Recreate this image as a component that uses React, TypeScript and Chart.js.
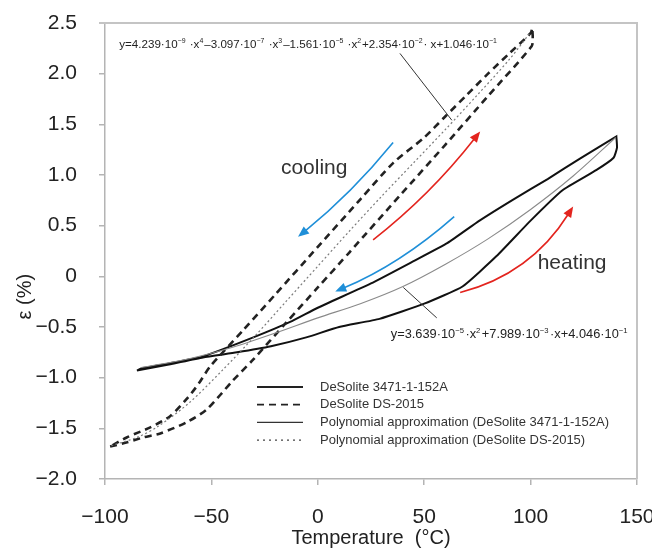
import React, { useEffect, useRef } from "react";
import { Chart, registerables } from "chart.js";
Chart.register(...registerables);

const FONT = "'Liberation Sans', Arial, 'Helvetica Neue', sans-serif";

const xTicks = [-100, -50, 0, 50, 100, 150];
const xTickLabels = ["\u2212100", "\u221250", "0", "50", "100", "150"];
const yTicks = [-2, -1.5, -1, -0.5, 0, 0.5, 1, 1.5, 2, 2.5];
const yTickLabels = ["\u22122.0", "\u22121.5", "\u22121.0", "\u22120.5", "0", "0.5", "1.0", "1.5", "2.0", "2.5"];

// DeSolite 3471-1-152A measured loop: heating branch then cooling branch
const s3471HeatT = [-85, -70, -54, -38, -22, -5, 10, 29, 50, 68, 84, 100, 115, 131, 139, 140.6, 140.3];
const s3471HeatE = [-0.93, -0.87, -0.8, -0.75, -0.69, -0.6, -0.5, -0.42, -0.27, -0.1, 0.2, 0.55, 0.85, 1.05, 1.17, 1.27, 1.38];
const s3471CoolT = [140.3, 123, 108, 92, 76, 61, 45, 25, 0, -13, -30, -54, -70, -83, -85];
const s3471CoolE = [1.38, 1.16, 0.96, 0.76, 0.55, 0.33, 0.15, -0.07, -0.31, -0.45, -0.6, -0.79, -0.86, -0.91, -0.93];

// DeSolite DS-2015 measured loop: heating branch then cooling branch
const sDSHeatT = [-97.6, -90, -82, -74, -61.6, -52, -40, -30.3, -15, 0, 15, 38.7, 60, 80, 100.5, 101, 100.8];
const sDSHeatE = [-1.68, -1.64, -1.59, -1.55, -1.44, -1.31, -1.03, -0.82, -0.46, -0.11, 0.24, 0.8, 1.3, 1.78, 2.27, 2.35, 2.45];
const sDSCoolT = [100.8, 100, 90, 80, 70, 60, 50, 35.5, 20, 0, -20, -35, -50.6, -56, -61.6, -69.4, -78.7, -89.8, -97.6];
const sDSCoolE = [2.45, 2.4, 2.2, 2.0, 1.79, 1.58, 1.37, 1.12, 0.76, 0.29, -0.18, -0.53, -0.89, -1.06, -1.21, -1.38, -1.49, -1.59, -1.68];

// Polynomial approximations
const p3471T = [-83, -60, -40, -20, 0, 20, 40, 60, 80, 100, 120, 140];
const p3471E = [-0.9, -0.81, -0.7, -0.56, -0.41, -0.27, -0.1, 0.12, 0.37, 0.66, 0.99, 1.37];
const pDST = [-97, -85, -75, -60, -45, -30, -15, 0, 15, 30, 45, 60, 75, 90, 100];
const pDSE = [-1.67, -1.59, -1.48, -1.24, -0.93, -0.6, -0.25, 0.1, 0.45, 0.79, 1.12, 1.45, 1.79, 2.14, 2.41];

const legendLabels = [
  "DeSolite 3471-1-152A",
  "DeSolite DS-2015",
  "Polynomial approximation (DeSolite 3471-1-152A)",
  "Polynomial approximation (DeSolite DS-2015)",
];

const eqTop: [string, boolean][] = [
  ["y=4.239\u00b710", false], ["\u22129", true], [" \u00b7x", false], ["4", true],
  ["\u20133.097\u00b710", false], ["\u22127", true], [" \u00b7x", false], ["3", true],
  ["\u20131.561\u00b710", false], ["\u22125", true], [" \u00b7x", false], ["2", true],
  ["+2.354\u00b710", false], ["\u22122", true], ["\u00b7 x+1.046\u00b710", false], ["\u22121", true],
];
const eqBottom: [string, boolean][] = [
  ["y=3.639\u00b710", false], ["\u22125", true], ["\u00b7x", false], ["2", true],
  ["+7.989\u00b710", false], ["\u22123", true], ["\u00b7x", false],
  ["+4.046\u00b710", false], ["\u22121", true],
];

// annotation arrows in data coordinates: start, control, end
const arrows = [
  { c: "#1f8fd8", p: [[35.4, 1.32], [16, 0.82], [-9.3, 0.39]] },
  { c: "#1f8fd8", p: [[64.1, 0.59], [38.7, 0.12], [8.2, -0.15]] },
  { c: "#e3241e", p: [[26, 0.36], [52.8, 0.8], [76.3, 1.43]] },
  { c: "#e3241e", p: [[66.9, -0.16], [100, 0.02], [120, 0.69]] },
];
const leaders = [
  [[38.6, 2.2], [63, 1.54]],
  [[40.2, -0.11], [55.9, -0.41]],
];

const zip = (a: number[], b: number[]) => a.map((v, i) => ({ x: v, y: b[i] }));

export default function App() {
  const ref = useRef<HTMLCanvasElement | null>(null);
  useEffect(() => {
    document.body.style.margin = "0";
    const canvas = ref.current!;
    const annot = {
      id: "annot",
      afterDraw(chart: any) {
        const { ctx, chartArea: ca, scales } = chart;
        const X = (v: number) => scales.x.getPixelForValue(v);
        const Y = (v: number) => scales.y.getPixelForValue(v);
        ctx.save();
        // frame top & right
        ctx.strokeStyle = "#c4c4c4";
        ctx.lineWidth = 2;
        ctx.beginPath();
        ctx.moveTo(ca.left - 6, ca.top);
        ctx.lineTo(ca.right, ca.top);
        ctx.lineTo(ca.right, ca.bottom);
        ctx.stroke();

        // leaders
        ctx.strokeStyle = "#333";
        ctx.lineWidth = 1;
        leaders.forEach((l) => {
          ctx.beginPath();
          ctx.moveTo(X(l[0][0]), Y(l[0][1]));
          ctx.lineTo(X(l[1][0]), Y(l[1][1]));
          ctx.stroke();
        });

        // arrows
        arrows.forEach((a) => {
          const [s, c, e] = a.p.map((q) => [X(q[0]), Y(q[1])]);
          ctx.strokeStyle = a.c;
          ctx.fillStyle = a.c;
          ctx.lineWidth = 1.6;
          const ang = Math.atan2(e[1] - c[1], e[0] - c[0]);
          const L = 11, W = 4.5;
          const bx = e[0] - L * Math.cos(ang), by = e[1] - L * Math.sin(ang);
          ctx.beginPath();
          ctx.moveTo(s[0], s[1]);
          ctx.quadraticCurveTo(c[0], c[1], bx + 2 * Math.cos(ang), by + 2 * Math.sin(ang));
          ctx.stroke();
          ctx.beginPath();
          ctx.moveTo(e[0], e[1]);
          ctx.lineTo(bx + W * Math.sin(ang), by - W * Math.cos(ang));
          ctx.lineTo(bx - W * Math.sin(ang), by + W * Math.cos(ang));
          ctx.closePath();
          ctx.fill();
        });

        // words
        ctx.fillStyle = "#333";
        ctx.font = `21px ${FONT}`;
        ctx.textAlign = "center";
        ctx.textBaseline = "middle";
        ctx.fillText("cooling", X(-1.7), Y(1.07));
        ctx.fillText("heating", X(119.5), Y(0.13));

        // equations
        const drawEq = (segs: [string, boolean][], x0: number, base: number, size: number, supGap: number) => {
          let x = x0;
          ctx.textAlign = "left";
          ctx.textBaseline = "alphabetic";
          ctx.fillStyle = "#222";
          segs.forEach(([t, sup]) => {
            const sz = sup ? size * 0.6 : size;
            ctx.font = `${sz}px ${FONT}`;
            ctx.fillText(t, x, sup ? base - size * 0.42 : base);
            x += ctx.measureText(t).width + (sup ? supGap : 0);
          });
        };
        drawEq(eqTop, X(-93.3), Y(2.25), 11.6, 1);
        drawEq(eqBottom, X(34.3), Y(-0.61), 12.8, 1.5);

        // legend
        const lx = ca.left + 152, ly = ca.top + 364;
        const styles = [
          { c: "#222", w: 1.8, d: [] as number[] },
          { c: "#222", w: 1.8, d: [7, 5] },
          { c: "#333", w: 1.3, d: [] as number[] },
          { c: "#444", w: 1.2, d: [2, 4] },
        ];
        legendLabels.forEach((lab, i) => {
          const yy = ly + i * 17.7;
          const st = styles[i];
          ctx.strokeStyle = st.c;
          ctx.lineWidth = st.w;
          ctx.setLineDash(st.d);
          ctx.beginPath();
          ctx.moveTo(lx, yy);
          ctx.lineTo(lx + 46, yy);
          ctx.stroke();
          ctx.setLineDash([]);
          ctx.fillStyle = "#333";
          ctx.font = `13px ${FONT}`;
          ctx.textAlign = "left";
          ctx.textBaseline = "middle";
          ctx.fillText(lab, lx + 63, yy);
        });

        // axis titles
        ctx.fillStyle = "#222";
        ctx.font = `20px ${FONT}`;
        ctx.textAlign = "center";
        ctx.textBaseline = "middle";
        ctx.fillText("Temperature  (\u00b0C)", (ca.left + ca.right) / 2, 538);
        ctx.save();
        ctx.translate(25, Y(-0.2));
        ctx.rotate(-Math.PI / 2);
        ctx.fillText("\u03b5 (%)", 0, 0);
        ctx.restore();
        ctx.restore();
      },
    };

    const axisCommon = {
      type: "linear" as const,
      grid: { display: true, drawOnChartArea: false, drawTicks: true, tickLength: 6, color: "#b4b4b4", lineWidth: 1.5 },
      border: { display: true, color: "#b4b4b4", width: 1.5 },
    };

    const chart = new Chart(canvas, {
      type: "scatter",
      data: {
        datasets: [
          {
            label: legendLabels[3],
            data: zip(pDST, pDSE),
            showLine: true,
            borderColor: "#7a7a7a",
            borderWidth: 1.2,
            borderDash: [2, 2.5],
            pointRadius: 0,
            tension: 0.3,
          },
          {
            label: legendLabels[2],
            data: zip(p3471T, p3471E),
            showLine: true,
            borderColor: "#8a8a8a",
            borderWidth: 1.1,
            pointRadius: 0,
            tension: 0.3,
          },
          {
            label: legendLabels[1],
            data: [...zip(sDSHeatT, sDSHeatE), ...zip(sDSCoolT, sDSCoolE)],
            showLine: true,
            borderColor: "#222",
            borderWidth: 2.6,
            borderDash: [7, 5],
            pointRadius: 0,
            tension: 0.25,
          },
          {
            label: legendLabels[0],
            data: [...zip(s3471HeatT, s3471HeatE), ...zip(s3471CoolT, s3471CoolE)],
            showLine: true,
            borderColor: "#111",
            borderWidth: 2,
            pointRadius: 0,
            tension: 0.15,
          },
        ],
      },
      options: {
        animation: false,
        responsive: false,
        layout: { padding: { left: 0, top: 23, right: 15, bottom: 0 } },
        plugins: { legend: { display: false }, tooltip: { enabled: false } },
        scales: {
          x: {
            ...axisCommon,
            min: -100,
            max: 150,
            afterBuildTicks: (s: any) => {
              s.ticks = xTicks.map((v) => ({ value: v }));
            },
            afterFit: (s: any) => {
              s.height = 71;
              s.paddingLeft = 0;
              s.paddingRight = 0;
              s.paddingTop = 0;
              s.paddingBottom = 0;
            },
            ticks: {
              autoSkip: false,
              maxRotation: 0,
              padding: 20,
              color: "#222",
              font: { family: FONT, size: 21 },
              callback: (_v: any, i: number) => xTickLabels[i],
            },
          },
          y: {
            ...axisCommon,
            min: -2,
            max: 2.5,
            afterBuildTicks: (s: any) => {
              s.ticks = yTicks.map((v) => ({ value: v }));
            },
            afterFit: (s: any) => {
              s.width = 105;
              s.paddingLeft = 0;
              s.paddingRight = 0;
              s.paddingTop = 0;
              s.paddingBottom = 0;
            },
            ticks: {
              autoSkip: false,
              padding: 22,
              color: "#222",
              font: { family: FONT, size: 21 },
              callback: (_v: any, i: number) => yTickLabels[i],
            },
          },
        },
      },
      plugins: [annot],
    } as any);
    return () => chart.destroy();
  }, []);
  return (
    <div style={{ width: 652, height: 550 }}>
      <canvas ref={ref} width={652} height={550} style={{ display: "block" }} />
    </div>
  );
}
